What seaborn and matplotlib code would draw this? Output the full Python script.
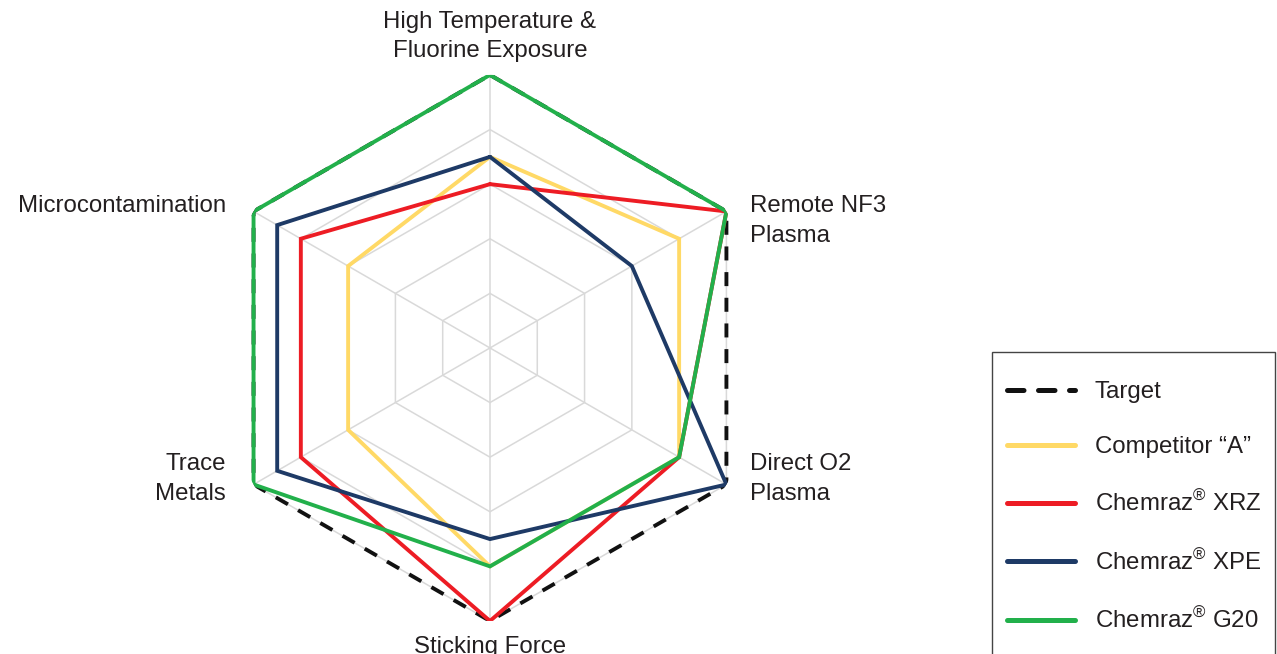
import numpy as np
import pandas as pd
import matplotlib
matplotlib.use("Agg")
import matplotlib.pyplot as plt
from matplotlib.lines import Line2D
from matplotlib.patches import Rectangle
import seaborn as sns

# ---------------- data ----------------
categories = ["High Temperature &\nFluorine Exposure", "Remote NF3\nPlasma", "Direct O2\nPlasma",
              "Sticking Force", "Trace\nMetals", "Microcontamination"]
series_names = ["Target", "Competitor \u201cA\u201d", "Chemraz$^{\u00ae}$ XRZ",
                "Chemraz$^{\u00ae}$ XPE", "Chemraz$^{\u00ae}$ G20"]
target = [5, 5, 5, 5, 5, 5]
competitor_a = [3.5, 4, 4, 4, 3, 3]
xrz = [3, 5, 4, 5, 4, 4]
xpe = [3.5, 3, 5, 3.5, 4.5, 4.5]
g20 = [5, 5, 4, 4, 5, 5]
grid_levels = [1, 2, 3, 4, 5]

colors = ["#111111", "#FFD966", "#ED1C24", "#1E3A66", "#22B04B"]

# ---------------- style ----------------
sns.set_theme(style="white")
plt.rcParams["font.family"] = ["Liberation Sans", "DejaVu Sans"]
plt.rcParams["mathtext.fontset"] = "custom"
plt.rcParams["mathtext.rm"] = "Liberation Sans"
plt.rcParams["mathtext.it"] = "Liberation Sans"
text_color = "#231F20"

fig = plt.figure(figsize=(12.77, 6.54), dpi=100)
ax = fig.add_axes([0.1699, 0.0505, 0.4276, 0.8349], projection="polar")
ax.set_theta_zero_location("N")
ax.set_theta_direction(-1)

n = len(categories)
angles = np.arange(n) * 2 * np.pi / n
angles_closed = np.append(angles, angles[0] + 2 * np.pi)

# grid hexagons
for lvl in grid_levels:
    ax.plot(angles_closed, [lvl] * (n + 1), color="#D9D9D9", lw=1.1, zorder=1)

all_series = [target, competitor_a, xrz, xpe, g20]
rows = []
for name, vals in zip(series_names, all_series):
    vc = list(vals) + [vals[0]]
    for i, (a, v) in enumerate(zip(angles_closed, vc)):
        rows.append({"series": name, "angle": a, "value": v, "order": i})
df = pd.DataFrame(rows)

for k, (name, col) in enumerate(zip(series_names, colors)):
    sub = df[df["series"] == name].sort_values("order")
    sns.lineplot(data=sub, x="angle", y="value", sort=False, estimator=None,
                 color=col, lw=2.8, ax=ax, zorder=3 + k, legend=False)
    line = ax.lines[-1]
    if k == 0:
        line.set_dashes([3.6, 3.0])
        line.set_dash_capstyle("butt")
    line.set_solid_joinstyle("miter")

ax.set_ylim(0, 5)
ax.set_xticks(angles)
ax.set_xticklabels([])
ax.set_yticks([])
ax.xaxis.grid(True, color="#D9D9D9", lw=1.1)
ax.yaxis.grid(False)
ax.spines["polar"].set_visible(False)
ax.set_xlabel("")
ax.set_ylabel("")
ax.set_facecolor("none")

# category labels (offsets in points)
fs = 17.3
label_specs = [
    ((0, 9), "center", "bottom"),
    ((17, -7), "left", "center"),
    ((17, 4), "left", "center"),
    ((0, -11), "center", "top"),
    ((-20, 4), "right", "center"),
    ((-20, 4), "right", "center"),
]
for a, lab, (off, ha, va) in zip(angles, categories, label_specs):
    ax.annotate(lab, xy=(a, 5), xycoords="data", xytext=off, textcoords="offset points",
                ha=ha, va=va, fontsize=fs, color=text_color, linespacing=1.45,
                annotation_clip=False)

# legend
handles = []
for k, (name, col) in enumerate(zip(series_names, colors)):
    h = Line2D([], [], color=col, lw=3.6, solid_capstyle="round", dash_capstyle="round")
    if k == 0:
        h.set_dashes([3.3, 2.9])
    handles.append(h)
leg = fig.legend(handles, series_names, loc="upper left",
                 bbox_to_anchor=(1007 / 1277, 1 - 381 / 654), bbox_transform=fig.transFigure,
                 frameon=False, fontsize=fs, handlelength=2.85, handletextpad=0.8,
                 labelspacing=1.38, borderpad=0, borderaxespad=0)
for t in leg.get_texts():
    t.set_color(text_color)

fig.patches.append(Rectangle((992 / 1277, -0.05), (1275 - 992) / 1277, 1 - 352 / 654 + 0.05,
                             transform=fig.transFigure, fill=False, edgecolor="#444444",
                             lw=1.0, zorder=0))

fig.savefig("out.png", dpi=100)
